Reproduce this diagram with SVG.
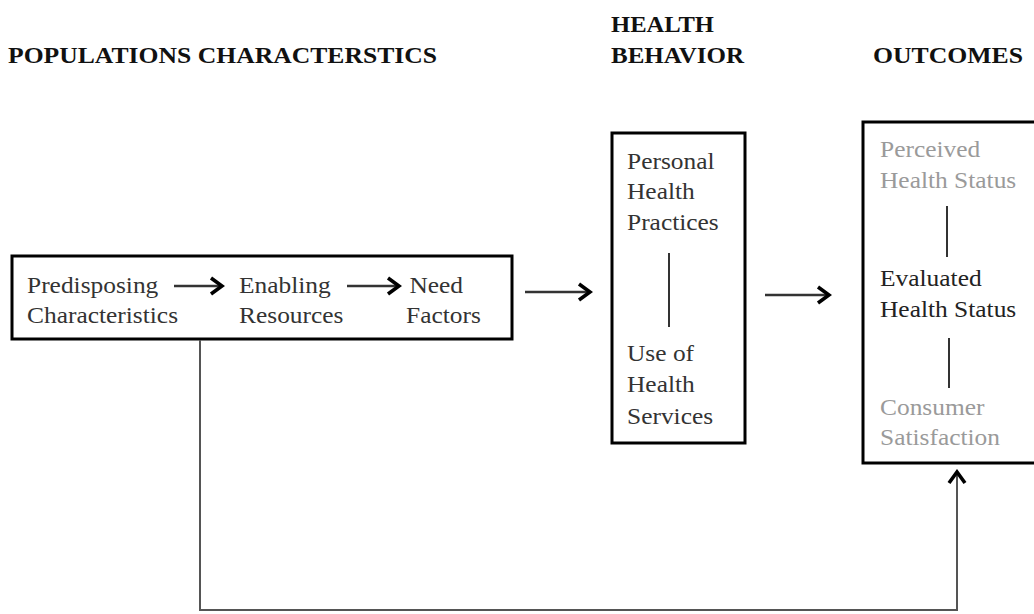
<svg xmlns="http://www.w3.org/2000/svg" width="1034" height="614" viewBox="0 0 1034 614">
<style>
.hdr{font-family:"Liberation Serif","Times New Roman",serif;font-weight:bold;font-size:23px;fill:#111}
.t{font-family:"Liberation Serif","Times New Roman",serif;font-size:22.5px;fill:#333}
.g{fill:#9a9a9a}
.dk{fill:#222}
.box{fill:#fff;stroke:#000;stroke-width:3}
.bar{stroke:#333;stroke-width:2}
.arr{stroke:#333;stroke-width:2.4;fill:none}
.fb{stroke:#555;stroke-width:2;fill:none}
</style>
<defs>
<marker id="ah" markerUnits="userSpaceOnUse" viewBox="0 0 16 20" refX="13" refY="10" markerWidth="16" markerHeight="20" orient="auto">
<path d="M2,2 L13,10 L2,18" fill="none" stroke="#000" stroke-width="3.6" stroke-linejoin="miter"/>
</marker>
</defs>
<rect width="1034" height="614" fill="#fff"/>
<g id="headers">
<text class="hdr" x="8" y="63" textLength="429" lengthAdjust="spacingAndGlyphs">POPULATIONS CHARACTERSTICS</text>
<text class="hdr" x="611" y="32" textLength="103" lengthAdjust="spacingAndGlyphs">HEALTH</text>
<text class="hdr" x="611" y="63" textLength="133" lengthAdjust="spacingAndGlyphs">BEHAVIOR</text>
<text class="hdr" x="873" y="63" textLength="150" lengthAdjust="spacingAndGlyphs">OUTCOMES</text>
</g>
<g id="population">
<rect class="box" x="12" y="256" width="500" height="83"/>
<text class="t" transform="translate(27 293) scale(1.13 1)">Predisposing<tspan x="0" dy="30">Characteristics</tspan></text>
<text class="t" transform="translate(239 293) scale(1.13 1)">Enabling<tspan x="0" dy="30">Resources</tspan></text>
<text class="t" transform="translate(406 293) scale(1.13 1)"><tspan x="3">Need</tspan><tspan x="0" dy="30">Factors</tspan></text>
</g>
<g id="behavior">
<rect class="box" x="612" y="133" width="133" height="310"/>
<text class="t" transform="translate(627 169) scale(1.13 1)">Personal<tspan x="0" dy="30.5">Health</tspan><tspan x="0" dy="30.5">Practices</tspan></text>
<line class="bar" x1="669" y1="253" x2="669" y2="327"/>
<text class="t" transform="translate(627 361) scale(1.13 1)">Use of<tspan x="0" dy="31">Health</tspan><tspan x="0" dy="32">Services</tspan></text>
</g>
<g id="outcomes">
<rect class="box" x="863" y="122" width="190" height="341"/>
<text class="t g" transform="translate(880 157) scale(1.13 1)">Perceived<tspan x="0" dy="31">Health Status</tspan></text>
<line class="bar" x1="947" y1="206" x2="947" y2="257"/>
<text class="t dk" transform="translate(880 286) scale(1.13 1)">Evaluated<tspan x="0" dy="31">Health Status</tspan></text>
<line class="bar" x1="949" y1="338" x2="949" y2="388"/>
<text class="t g" transform="translate(880 415) scale(1.13 1)">Consumer<tspan x="0" dy="30">Satisfaction</tspan></text>
</g>
<g id="connectors">
<line class="arr" x1="174" y1="286" x2="222" y2="286" marker-end="url(#ah)"/>
<line class="arr" x1="347" y1="286" x2="399" y2="286" marker-end="url(#ah)"/>
<line class="arr" x1="525" y1="292" x2="590" y2="292" marker-end="url(#ah)"/>
<line class="arr" x1="765" y1="295" x2="829" y2="295" marker-end="url(#ah)"/>
<path class="fb" d="M200,340 L200,610 L957,610 L957,472" marker-end="url(#ah)"/>
</g>
</svg>
